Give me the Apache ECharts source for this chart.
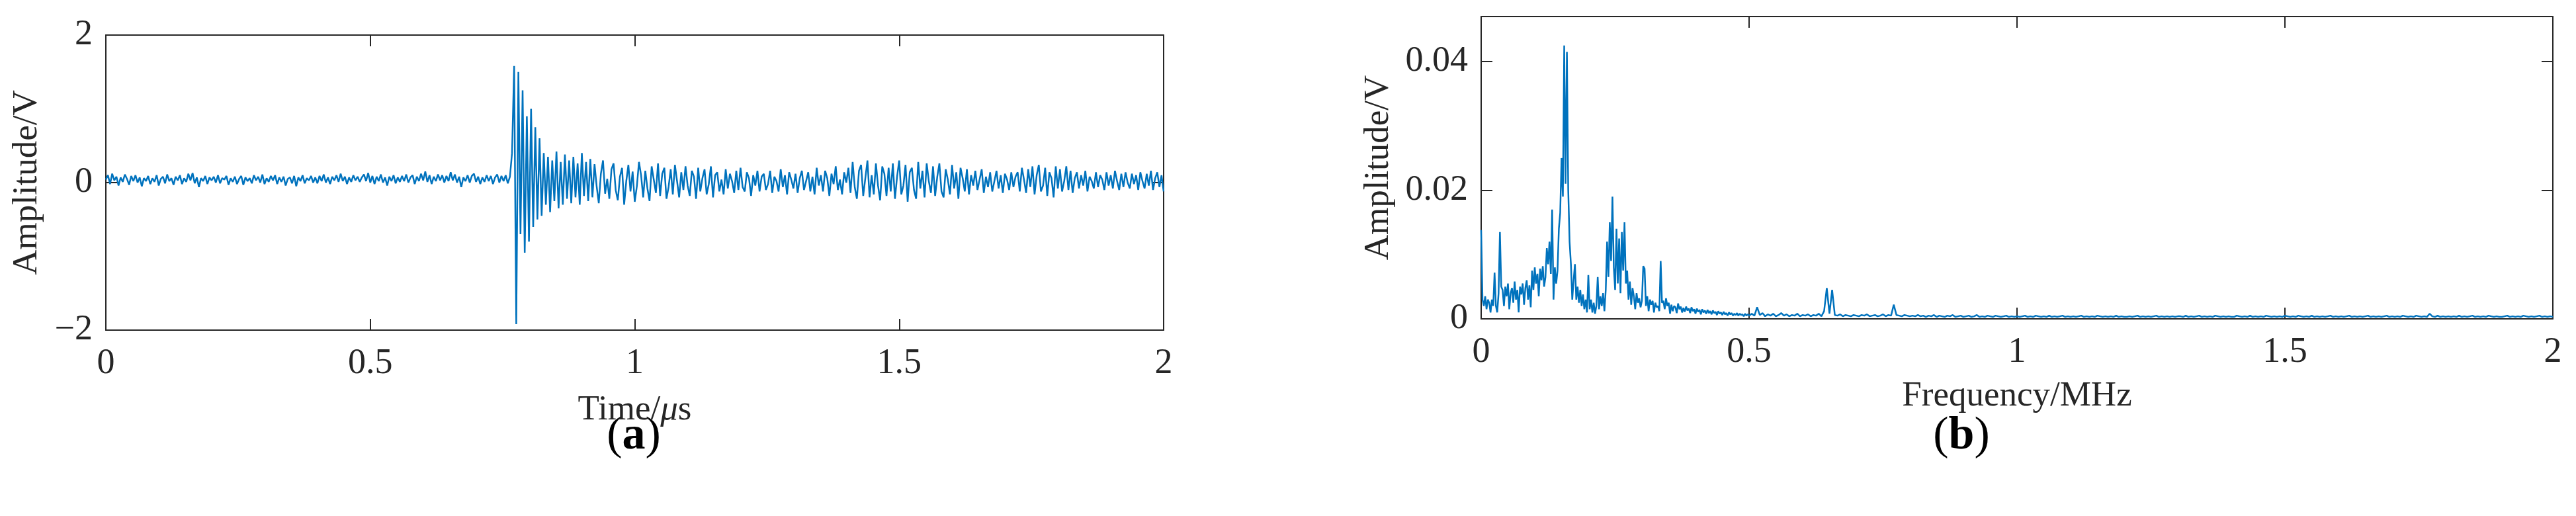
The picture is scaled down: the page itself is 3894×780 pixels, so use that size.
<!DOCTYPE html>
<html>
<head>
<meta charset="utf-8">
<title>Signal and spectrum</title>
<script src="https://cdn.jsdelivr.net/npm/echarts@6/dist/echarts.min.js"></script>
<style>
  html, body { margin: 0; padding: 0; background: #fff; }
  #chart { width: 3894px; height: 780px; }
</style>
</head>
<body>
<div id="chart"></div>
<script>
// time signal, sampled every 0.004 us from 0 to 2 us
var timeStep = 0.004;
var timeAmp = [
  // quiet part before the burst (0 - 0.764 us)
  0.04,0.10,-0.02,0.12,0.03,0.08,-0.04,0.07,0.01,0.11,0.05,-0.03,0.09,0.02,0.10,0.00,0.07,-0.05,0.06,0.02,
  0.09,-0.02,0.06,0.01,0.10,-0.04,0.05,0.08,-0.01,0.11,0.02,0.06,-0.03,0.08,0.03,0.10,-0.02,0.06,0.01,0.12,
  0.03,0.13,-0.01,0.07,-0.06,0.06,0.02,0.09,-0.02,0.07,0.03,0.08,0.00,0.10,-0.01,0.06,0.04,0.09,-0.03,0.06,
  0.01,0.08,-0.02,0.05,0.09,-0.03,0.07,0.02,0.06,-0.01,0.10,0.03,0.08,0.00,0.11,-0.02,0.06,0.01,0.09,0.03,
  0.10,-0.02,0.07,0.01,0.08,-0.04,0.05,0.07,-0.01,0.09,-0.05,0.07,0.02,0.10,-0.01,0.06,0.03,0.09,0.00,0.07,
  -0.01,0.09,0.02,0.11,0.00,0.07,-0.02,0.08,0.03,0.10,0.01,0.12,0.02,0.08,-0.02,0.07,0.01,0.10,0.03,0.08,
  0.01,0.07,0.11,0.02,0.13,0.00,0.09,-0.02,0.08,0.02,0.11,0.00,0.07,-0.04,0.08,0.02,0.10,-0.01,0.07,0.01,
  0.09,0.02,0.11,0.00,0.07,0.10,-0.02,0.08,0.02,0.12,0.03,0.15,0.01,0.10,-0.02,0.08,0.02,0.11,0.03,0.10,
  0.00,0.09,0.02,0.14,0.03,0.11,0.00,0.08,-0.06,0.07,0.02,0.10,0.00,0.09,0.12,0.01,0.08,-0.02,0.07,0.01,
  0.10,0.02,0.09,-0.02,0.07,0.11,0.00,0.09,0.02,0.10,-0.01,0.08,
  // burst
  0.40,1.58,-1.92,1.50,-0.70,1.25,-0.95,0.90,-0.80,1.00,-0.60,0.75,-0.50,0.60,
  -0.45,0.40,-0.30,0.35,-0.40,0.30,-0.25,0.42,-0.35,0.28,-0.30,0.38,-0.22,0.30,-0.28,0.35,-0.20,0.26,-0.30,0.40,
  -0.18,0.28,-0.25,0.32,-0.20,
  // tail
  0.25,-0.05,-0.28,0.12,0.30,-0.15,0.05,-0.22,0.18,0.26,-0.10,-0.24,0.08,0.20,-0.30,0.02,0.24,-0.12,0.15,-0.26,
  -0.05,0.28,0.10,-0.20,0.16,-0.08,-0.25,0.22,0.04,-0.14,0.26,-0.18,0.12,0.20,-0.22,-0.06,0.18,-0.16,0.24,0.02,
  -0.20,0.14,-0.10,0.22,-0.04,-0.18,0.16,0.08,-0.22,0.20,-0.12,0.06,0.18,-0.16,-0.02,0.22,-0.20,0.10,0.14,-0.12,
  0.04,-0.16,0.18,-0.08,0.12,0.02,-0.14,0.16,-0.10,0.20,-0.06,-0.12,0.14,0.06,-0.18,0.10,-0.04,0.16,-0.12,0.08,
  0.12,-0.10,-0.02,0.16,-0.14,0.08,0.02,-0.12,0.18,-0.06,0.10,-0.16,0.14,0.04,-0.08,0.12,-0.14,0.06,0.16,-0.10,
  0.02,0.14,-0.12,0.08,-0.16,0.20,-0.04,0.10,-0.12,0.16,0.06,-0.18,0.12,-0.02,0.22,-0.10,0.04,-0.16,0.14,0.00,
  0.20,-0.14,0.28,-0.06,-0.22,0.16,0.24,-0.18,0.06,0.30,-0.20,0.10,-0.16,0.26,-0.04,-0.24,0.22,0.12,-0.18,0.20,
  -0.12,0.26,-0.22,0.08,0.30,-0.16,-0.04,0.24,-0.26,0.14,0.20,-0.10,-0.22,0.28,-0.08,0.16,-0.20,0.26,0.02,-0.14,
  0.22,-0.18,0.08,0.26,-0.12,-0.20,0.18,0.04,-0.16,0.24,-0.08,0.14,-0.22,0.20,0.06,-0.12,0.18,-0.16,0.10,-0.04,
  0.16,-0.10,0.04,0.18,-0.14,0.08,-0.06,0.14,-0.12,0.02,0.16,-0.08,0.10,-0.14,0.12,0.04,-0.10,0.14,-0.06,0.08,
  0.14,-0.12,0.20,0.04,-0.14,0.18,-0.06,0.22,-0.16,0.10,0.24,-0.12,-0.04,0.20,-0.18,0.14,0.06,-0.20,0.22,-0.08,
  0.18,-0.12,0.02,0.22,-0.10,0.16,-0.14,0.06,0.14,-0.08,0.10,-0.04,0.16,-0.12,0.08,0.02,-0.08,0.14,-0.06,0.10,
  0.04,-0.10,0.14,-0.04,0.10,-0.08,0.16,0.02,-0.10,0.12,-0.06,0.14,0.00,-0.08,0.12,-0.02,0.10,-0.10,0.14,0.02,
  -0.08,0.12,-0.04,0.16,-0.10,0.06,0.14,-0.06,0.10,-0.12
];

// spectrum, 0 - 0.5 MHz every 0.0025 MHz
var specLowStep = 0.0025;
var specLowAmp = [
  0.0138,0.003,0.002,0.0035,0.0015,0.003,0.0025,0.001,0.003,0.002,0.0072,0.002,0.001,0.004,0.0135,0.005,
  0.0045,0.002,0.005,0.0035,0.0055,0.0015,0.004,0.0048,0.0025,0.0058,0.003,0.0045,0.001,0.005,0.0038,0.0055,
  0.0022,0.0048,0.006,0.003,0.0052,0.0018,
  0.0075,0.0045,0.008,0.0055,0.007,0.0035,0.0078,0.006,0.0082,0.005,
  0.0065,0.011,0.0085,0.012,0.007,0.017,0.003,0.008,0.0055,0.0075,0.014,0.0165,
  0.025,0.019,0.0425,0.021,0.0415,0.020,0.012,0.0085,0.003,0.006,0.0085,0.003,
  0.005,0.0025,0.0045,0.002,0.0038,0.0015,0.003,0.001,
  0.0068,0.0015,0.003,0.001,0.0025,0.0008,0.002,0.0065,0.0015,0.0035,0.002,0.004,0.0012,
  0.0045,0.012,0.0065,0.015,0.009,0.019,0.008,0.0045,0.014,0.0055,0.0125,0.004,0.0135,0.0075,0.015,0.0055,
  0.0075,0.003,0.0058,0.0022,0.0048,0.0035,0.0015,0.004,0.0025,
  0.0032,0.0018,0.0028,0.0082,0.0078,
  0.002,0.0035,0.0012,0.003,0.0022,0.0028,0.001,0.0025,0.0018,0.002,
  0.0012,0.009,0.0025,
  0.0028,0.0015,0.0032,0.002,0.0025,0.0008,0.0022,0.0012,0.002,0.0018,0.0009,0.0024,0.0015,0.0019,0.001,
  0.0017,0.0011,0.0019,0.0013,0.0016,0.0009,0.0018,0.0012,0.0015,0.0008,
  0.0016,0.0011,0.0014,0.0007,0.0015,0.001,0.0013,0.0008,0.0014,0.0009,
  0.0012,0.0007,0.0013,0.0009,0.0011,0.0006,0.0012,0.0008,0.001,0.0006,
  0.0011,0.0007,0.0009,0.0005,0.001,0.0007,0.0009,0.0005,0.0008,0.0006,
  0.0009,0.0005,0.0008,0.0006,0.0007,0.0004,0.0008,0.0005,0.0007,0.0005
];

// spectrum, 0.505 - 2 MHz every 0.005 MHz
var specHighStart = 0.505;
var specHighStep = 0.005;
var specHighAmp = [
  0.0008,0.0005,0.0018,0.0006,0.0009,0.0004,0.0007,0.0005,0.0008,0.0004,0.0006,0.0009,0.0005,0.0007,0.0004,0.0006,0.0005,0.0008,0.0004,0.0006,
  0.0005,0.0007,0.0004,0.0006,0.0005,0.0008,0.0004,0.0012,0.0048,0.0008,0.0045,0.0006,0.0005,0.0007,0.0004,0.0006,0.0005,0.0004,0.0006,0.0005,
  0.0004,0.0006,0.0005,0.0007,0.0004,0.0005,0.0006,0.0004,0.0005,0.0007,0.0004,0.0006,0.0005,0.0022,0.0006,0.0005,0.0004,0.0006,0.0005,0.0004,
  0.0005,0.0004,0.0006,0.0004,0.0005,0.0003,0.0005,0.0004,0.0006,0.0003,0.0005,0.0004,0.0003,0.0005,0.0004,0.0006,0.0003,0.0004,0.0005,0.0003,
  0.0004,0.0005,0.0003,0.0004,0.0006,0.0003,0.0004,0.0003,0.0005,0.0004,0.0003,0.0005,0.0004,0.0003,0.0004,0.0005,0.0003,0.0004,0.0003,0.0004,
  0.0003,0.0004,0.0005,0.0003,0.0004,0.0003,0.0005,0.0004,0.0003,0.0004,0.0003,0.0005,0.0003,0.0004,0.0003,0.0004,0.0005,0.0003,0.0004,0.0003,
  0.0004,0.0003,0.0004,0.0005,0.0003,0.0004,0.0003,0.0004,0.0003,0.0005,0.0004,0.0003,0.0004,0.0003,0.0004,0.0003,0.0005,0.0003,0.0004,0.0003,
  0.0003,0.0004,0.0003,0.0004,0.0005,0.0003,0.0004,0.0003,0.0004,0.0003,0.0004,0.0005,0.0003,0.0004,0.0003,0.0004,0.0003,0.0004,0.0003,0.0004,
  0.0004,0.0003,0.0005,0.0003,0.0004,0.0003,0.0004,0.0005,0.0003,0.0004,0.0003,0.0004,0.0003,0.0005,0.0004,0.0003,0.0004,0.0003,0.0004,0.0003,
  0.0003,0.0005,0.0004,0.0003,0.0004,0.0003,0.0005,0.0003,0.0004,0.0003,0.0004,0.0003,0.0005,0.0004,0.0003,0.0004,0.0003,0.0004,0.0003,0.0005,
  0.0004,0.0003,0.0004,0.0003,0.0005,0.0004,0.0003,0.0004,0.0003,0.0005,0.0003,0.0004,0.0003,0.0004,0.0003,0.0004,0.0005,0.0003,0.0004,0.0003,
  0.0004,0.0003,0.0004,0.0005,0.0003,0.0004,0.0003,0.0004,0.0003,0.0004,0.0005,0.0003,0.0004,0.0003,0.0004,0.0003,0.0004,0.0005,0.0003,0.0004,
  0.0003,0.0004,0.0003,0.0005,0.0004,0.0003,0.0004,0.0003,0.0005,0.0004,0.0003,0.0004,0.0003,0.0008,0.0004,0.0003,0.0005,0.0003,0.0004,0.0003,
  0.0004,0.0003,0.0004,0.0003,0.0005,0.0003,0.0004,0.0003,0.0004,0.0005,0.0003,0.0004,0.0003,0.0004,0.0003,0.0005,0.0004,0.0003,0.0004,0.0003,
  0.0003,0.0004,0.0005,0.0003,0.0004,0.0003,0.0004,0.0003,0.0005,0.0004,0.0003,0.0004,0.0003,0.0004,0.0005,0.0003,0.0004,0.0003,0.0004,0.0003
];

var FONT = 'Liberation Serif';
var INK = '#262626';
var LINE = '#0072BD';

// build [x, y] pairs
var timeData = timeAmp.map(function (v, i) { return [+(i * timeStep).toFixed(4), v]; });
var specData = specLowAmp.map(function (v, i) { return [+(i * specLowStep).toFixed(4), v]; });
specHighAmp.forEach(function (v, i) {
  specData.push([+(specHighStart + i * specHighStep).toFixed(4), v]);
});

function minusFmt(v) {
  return v < 0 ? '\u2212' + Math.abs(v) : String(v);
}

var labelStyle = { fontFamily: FONT, fontSize: 54, color: INK };
var nameStyle = { fontFamily: FONT, fontSize: 53, color: INK };

// one visible axis pair plus a mirrored pair (top / right) for ticks
function axisBox(opt) {
  return Object.assign({
    type: 'value',
    axisLine: { show: true, onZero: false, lineStyle: { color: INK, width: 2 } },
    axisTick: { show: true, inside: true, length: 17, lineStyle: { color: INK, width: 2 } },
    splitLine: { show: false },
    axisLabel: Object.assign({ margin: 24 }, labelStyle)
  }, opt);
}

var chart = echarts.init(document.getElementById('chart'));

var option = {
  backgroundColor: '#fff',
  animation: false,
  grid: [
    { left: 160, top: 53, width: 1599, height: 446 },
    { left: 2239, top: 25, width: 1620, height: 457 }
  ],
  xAxis: [
    axisBox({
      gridIndex: 0, position: 'bottom', min: 0, max: 2, interval: 0.5,
      name: 'Time/{i|\u03bc}s', nameLocation: 'middle', nameGap: 95,
      nameTextStyle: Object.assign({ rich: { i: { fontFamily: FONT, fontSize: 53, fontStyle: 'italic', color: INK } } }, nameStyle)
    }),
    axisBox({ gridIndex: 0, position: 'top', min: 0, max: 2, interval: 0.5, axisLabel: { show: false } }),
    axisBox({
      gridIndex: 1, position: 'bottom', min: 0, max: 2, interval: 0.5,
      name: 'Frequency/MHz', nameLocation: 'middle', nameGap: 91, nameTextStyle: nameStyle
    }),
    axisBox({ gridIndex: 1, position: 'top', min: 0, max: 2, interval: 0.5, axisLabel: { show: false } })
  ],
  yAxis: [
    axisBox({
      gridIndex: 0, position: 'left', min: -2, max: 2, interval: 2,
      axisLabel: Object.assign({ margin: 20, formatter: minusFmt }, labelStyle),
      name: 'Amplitude/V', nameLocation: 'middle', nameGap: 92, nameTextStyle: nameStyle
    }),
    axisBox({ gridIndex: 0, position: 'right', min: -2, max: 2, interval: 2, axisLabel: { show: false } }),
    axisBox({
      gridIndex: 1, position: 'left', min: 0, max: 0.047, interval: 0.02,
      axisLabel: Object.assign({ margin: 20, showMaxLabel: false }, labelStyle),
      name: 'Amplitude/V', nameLocation: 'middle', nameGap: 128, nameTextStyle: nameStyle
    }),
    axisBox({ gridIndex: 1, position: 'right', min: 0, max: 0.047, interval: 0.02, axisLabel: { show: false } })
  ],
  series: [
    {
      type: 'line', xAxisIndex: 0, yAxisIndex: 0, data: timeData,
      showSymbol: false, lineStyle: { color: LINE, width: 2.5 }, z: 1
    },
    {
      type: 'line', xAxisIndex: 2, yAxisIndex: 2, data: specData,
      showSymbol: false, lineStyle: { color: LINE, width: 2.5 }, z: 1
    }
  ],
  graphic: [
    {
      type: 'text', x: 958, y: 660,
      style: {
        text: '({b|a})', fontFamily: FONT, fontSize: 70, fill: '#000',
        align: 'center', verticalAlign: 'middle',
        rich: { b: { fontFamily: FONT, fontSize: 70, fontWeight: 'bold', fill: '#000' } }
      }
    },
    {
      type: 'text', x: 2965, y: 660,
      style: {
        text: '({b|b})', fontFamily: FONT, fontSize: 70, fill: '#000',
        align: 'center', verticalAlign: 'middle',
        rich: { b: { fontFamily: FONT, fontSize: 70, fontWeight: 'bold', fill: '#000' } }
      }
    }
  ]
};

chart.setOption(option);
</script>
</body>
</html>
